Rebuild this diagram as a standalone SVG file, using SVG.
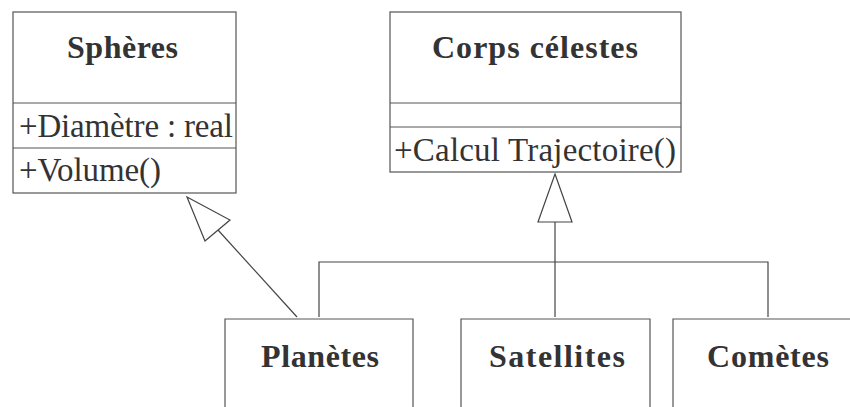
<svg xmlns="http://www.w3.org/2000/svg" width="850" height="407" viewBox="0 0 850 407">
  <style>
    .box { fill: #ffffff; stroke: #555555; stroke-width: 1.2; }
    .sep { stroke: #555555; stroke-width: 1.2; }
    .title { font-family: "Liberation Serif", "Times New Roman", serif; font-weight: bold; font-size: 32px; fill: #333333; }
    .member { font-family: "Liberation Serif", "Times New Roman", serif; font-size: 33px; fill: #333333; }
    .edge { fill: none; stroke: #444444; stroke-width: 1.2; }
    .head { fill: #ffffff; stroke: #444444; stroke-width: 1.2; }
  </style>
  <rect width="850" height="407" fill="#ffffff"/>

  <g id="spheres">
    <rect class="box" x="13" y="12" width="223" height="181"/>
    <line class="sep" x1="13" y1="103" x2="236" y2="103"/>
    <line class="sep" x1="13" y1="148" x2="236" y2="148"/>
    <text class="title" x="67" y="58" textLength="111" lengthAdjust="spacing">Sphères</text>
    <text class="member" x="19" y="137" textLength="214" lengthAdjust="spacing">+Diamètre : real</text>
    <text class="member" x="19" y="181" textLength="142" lengthAdjust="spacing">+Volume()</text>
  </g>

  <g id="corps-celestes">
    <rect class="box" x="390" y="12" width="291" height="160"/>
    <line class="sep" x1="390" y1="103" x2="681" y2="103"/>
    <line class="sep" x1="390" y1="127" x2="681" y2="127"/>
    <text class="title" x="432" y="58" textLength="206" lengthAdjust="spacing">Corps célestes</text>
    <text class="member" x="394" y="161" textLength="282" lengthAdjust="spacing">+Calcul Trajectoire()</text>
  </g>

  <g id="planetes">
    <path class="box" d="M225 408 V319 H413 V408"/>
    <text class="title" x="261" y="367" textLength="118" lengthAdjust="spacing">Planètes</text>
  </g>

  <g id="satellites">
    <path class="box" d="M461 408 V319 H650 V408"/>
    <text class="title" x="489" y="367" textLength="136" lengthAdjust="spacing">Satellites</text>
  </g>

  <g id="cometes">
    <path class="box" d="M673 408 V319 H852"/>
    <text class="title" x="707" y="367" textLength="122" lengthAdjust="spacing">Comètes</text>
  </g>

  <g id="connectors">
    <!-- Planètes generalises Sphères -->
    <line class="edge" x1="297" y1="317" x2="218" y2="230"/>
    <polygon class="head" points="187,197 230,220 205,241"/>
    <!-- Planètes, Satellites, Comètes generalise Corps célestes -->
    <path class="edge" d="M319 317 V262 H768 V317"/>
    <line class="edge" x1="555" y1="317" x2="555" y2="222"/>
    <polygon class="head" points="555,174 572,222 538,222"/>
  </g>
</svg>
